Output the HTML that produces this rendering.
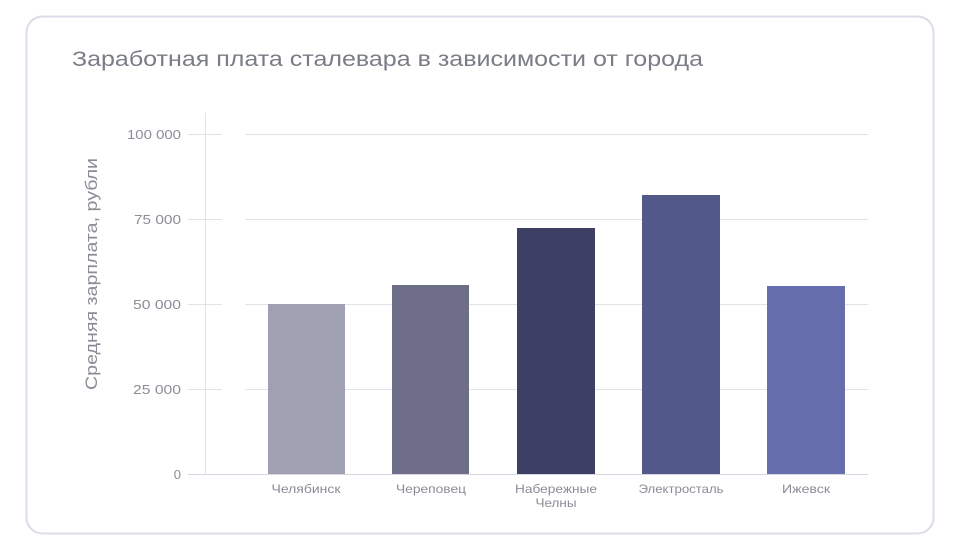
<!DOCTYPE html>
<html><head><meta charset="utf-8"><style>
body{margin:0;background:#fff;width:961px;height:550px;overflow:hidden;font-family:"Liberation Sans",sans-serif}
</style></head><body>
<svg width="961" height="550" xmlns="http://www.w3.org/2000/svg" font-family="Liberation Sans, sans-serif">
<rect x="26.5" y="16.5" width="907" height="517" rx="16" fill="#fff" stroke="#dcdce8" stroke-width="2"/>
<text x="72" y="66" font-size="21" fill="#7a7c86" textLength="631" lengthAdjust="spacingAndGlyphs">Заработная плата сталевара в зависимости от города</text>
<g stroke="#e2e2ea" stroke-width="1">
<line x1="205.5" y1="113" x2="205.5" y2="474"/>
<line x1="188" y1="134.5" x2="222" y2="134.5"/><line x1="245" y1="134.5" x2="868" y2="134.5"/>
<line x1="188" y1="219.5" x2="222" y2="219.5"/><line x1="245" y1="219.5" x2="868" y2="219.5"/>
<line x1="188" y1="304.5" x2="222" y2="304.5"/><line x1="245" y1="304.5" x2="868" y2="304.5"/>
<line x1="188" y1="389.5" x2="222" y2="389.5"/><line x1="245" y1="389.5" x2="868" y2="389.5"/>
</g>
<line x1="188" y1="474.5" x2="868" y2="474.5" stroke="#d6d6e2"/>
<g font-size="13" fill="#8a8c96" text-anchor="end">
<text x="181" y="139" textLength="54" lengthAdjust="spacingAndGlyphs">100 000</text><text x="181" y="224" textLength="47" lengthAdjust="spacingAndGlyphs">75 000</text><text x="181" y="309" textLength="48" lengthAdjust="spacingAndGlyphs">50 000</text><text x="181" y="394" textLength="48" lengthAdjust="spacingAndGlyphs">25 000</text><text x="181" y="479">0</text>
</g>
<text transform="translate(97,274) rotate(-90)" font-size="17" fill="#8a8c96" text-anchor="middle" textLength="232" lengthAdjust="spacingAndGlyphs">Средняя зарплата, рубли</text>
<rect x="268" y="304" width="77" height="170" fill="#a0a0b3"/>
<rect x="392" y="285" width="77" height="189" fill="#6e6e88"/>
<rect x="517" y="228" width="78" height="246" fill="#3d3f64"/>
<rect x="642" y="195" width="78" height="279" fill="#525888"/>
<rect x="767" y="286" width="78" height="188" fill="#676ead"/>
<g font-size="12" fill="#8a8c96" text-anchor="middle">
<text x="306" y="493" textLength="69" lengthAdjust="spacingAndGlyphs">Челябинск</text><text x="431" y="493" textLength="70" lengthAdjust="spacingAndGlyphs">Череповец</text>
<text x="556" y="493" textLength="82" lengthAdjust="spacingAndGlyphs">Набережные</text><text x="556" y="507" textLength="41" lengthAdjust="spacingAndGlyphs">Челны</text>
<text x="681" y="493" textLength="85" lengthAdjust="spacingAndGlyphs">Электросталь</text><text x="806" y="493" textLength="48" lengthAdjust="spacingAndGlyphs">Ижевск</text>
</g>
</svg>
</body></html>
